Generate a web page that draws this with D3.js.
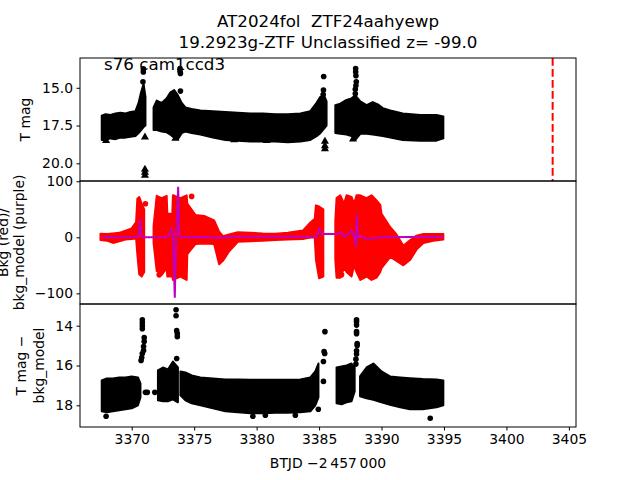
<!DOCTYPE html>
<html>
<head>
<meta charset="utf-8">
<script src="https://cdn.jsdelivr.net/npm/d3@7"></script>
<style>
body { margin: 0; background: #fff; }
text { font-family: "DejaVu Sans", sans-serif; }
</style>
</head>
<body>
<div id="chart"></div>
<script>
// ---- data ----
// bands: [BTJD, upper edge value, lower edge value]
var topBandA = [[3367.6,16.85,18.45],[3367.9,16.75,18.45],[3368.3,16.8,18.35],[3368.7,16.7,18.4],[3369.1,16.65,18.3],[3369.5,16.7,18.3],[3369.9,16.6,18.25],[3370.3,16.55,18.2],[3370.55,16.0,18.0],[3370.75,15.3,17.8],[3370.95,14.75,17.6],[3371.1,15.6,17.5]];
var topBandB = [[3371.75,16.3,17.8],[3372.0,15.85,17.8],[3372.4,16.0,17.9],[3372.8,15.7,17.95],[3373.1,15.3,18.1],[3373.4,15.15,18.3],[3373.7,15.5,18.4],[3374.0,16.0,18.0],[3374.3,16.3,17.9],[3374.8,16.4,18.0],[3375.5,16.5,18.1],[3376.5,16.55,18.3],[3377.5,16.6,18.45],[3378.5,16.65,18.5],[3379.5,16.7,18.55],[3380.5,16.7,18.55],[3381.5,16.75,18.55],[3382.5,16.75,18.6],[3383.5,16.7,18.55],[3384.3,16.55,18.45],[3384.8,16.0,18.2],[3385.1,15.6,18.0],[3385.4,15.5,17.7],[3385.6,15.9,17.5]];
var topBandC = [[3386.3,16.15,18.0],[3386.7,16.05,18.05],[3387.2,15.8,18.1],[3387.6,15.7,18.2],[3387.9,15.5,18.45],[3388.3,15.9,18.05],[3388.8,16.15,18.05],[3389.3,15.95,18.1],[3389.7,16.1,18.15],[3390.1,16.35,18.2],[3390.7,16.5,18.3],[3391.7,16.7,18.45],[3393.1,16.8,18.5],[3394.4,16.8,18.5],[3394.95,16.9,18.35]];
var topDots = [[3370.93,13.75],[3370.93,13.95],[3370.9,14.6],[3373.87,13.72],[3373.87,13.9],[3373.9,14.05],[3373.9,15.22],[3385.37,14.25],[3385.35,15.15],[3385.33,15.45],[3387.93,13.72],[3387.93,13.95],[3387.95,14.2],[3387.98,14.6],[3387.95,14.85],[3387.9,15.1],[3387.9,15.4]];
var topLimits = [[3367.95,18.5],[3371.06,18.27],[3371.06,20.4],[3371.06,20.6],[3371.06,20.8],[3373.5,18.35],[3378.2,18.45],[3380.8,18.5],[3382.57,18.5],[3385.47,18.55],[3385.47,18.85],[3385.47,19.05],[3387.72,18.4]];

var bkgBandA = [[3367.5,6.5,-5],[3368.0,6,-6],[3368.5,7,-10],[3369.0,8,-7],[3369.5,12,-4],[3370.0,16,-3],[3370.35,27,-2],[3370.45,69,-30],[3370.6,72,-66],[3370.8,60,-70],[3371.0,50,-62]];
var bkgBandB = [[3371.75,20,-10],[3372.0,74,-60],[3372.4,70,-67],[3372.8,74,-55],[3372.85,42,-70],[3373.25,42,-70],[3373.3,75,-76],[3373.9,70,-70],[3374.4,75,-76],[3374.45,60,-30],[3375.1,40,-12],[3375.8,38,-11],[3376.6,30,-12],[3377.0,10,-48],[3377.3,2,-42],[3377.8,5,-25],[3378.5,9,-8],[3379.5,8,-7],[3380.5,7,-6],[3381.5,6.5,-5],[3382.5,8,-4],[3383.7,12,-3],[3384.2,24,-1],[3384.65,33,0],[3384.75,57,-40],[3385.0,55,-73],[3385.34,50,-70]];
var bkgBandC = [[3386.3,30,-40],[3386.4,70,-72],[3386.7,75,-72],[3387.0,60,-55],[3387.2,75,-62],[3387.6,72,-70],[3387.8,60,-50],[3388.0,75,-62],[3388.3,75,-76],[3388.8,70,-70],[3389.2,75,-76],[3389.6,66,-72],[3389.9,58,-62],[3390.0,42,-55],[3390.7,18,-35],[3391.2,5,-42],[3391.75,-15,-50],[3392.3,-5,-40],[3392.8,3,-22],[3393.35,6,-10],[3394.15,6,-6],[3394.95,6,-4]];
var bkgDots = [[3371.1,60],[3374.8,73],[3372.2,-67],[3386.8,-67]];
var bkgModel = [[3367.6,0],[3370.4,0.5],[3370.55,3],[3370.66,33],[3370.75,8],[3370.85,0],[3372.9,0],[3373.2,15],[3373.3,2],[3373.45,-108],[3373.55,0],[3373.72,90],[3373.82,4],[3373.95,0],[3376,0.5],[3377,-1],[3378,1],[3384.8,1],[3385.02,15],[3385.2,6],[3386.4,6],[3386.8,9],[3387.0,1],[3387.3,5],[3387.6,12],[3387.85,-2],[3387.95,-17],[3388.02,40],[3388.1,0],[3388.3,2],[3388.8,-2.5],[3389.4,-2],[3389.9,0],[3392.3,0.5],[3394.95,0.5]];

var subBandA = [[3367.6,16.75,18.3],[3368.0,16.65,18.35],[3368.5,16.65,18.3],[3369.0,16.6,18.25],[3369.5,16.6,18.2],[3370.0,16.55,18.15],[3370.5,16.6,18.0],[3370.7,16.9,17.6]];
var subBandB = [[3372.1,16.25,17.75],[3372.5,16.1,17.8],[3372.9,16.2,17.8],[3373.3,15.8,17.7],[3373.7,16.1,17.85]];
var subBandC = [[3373.9,16.3,17.5],[3374.3,16.35,17.75],[3374.8,16.5,17.9],[3375.5,16.6,18.0],[3376.5,16.65,18.15],[3377.5,16.7,18.3],[3378.5,16.7,18.35],[3379.5,16.72,18.4],[3380.5,16.72,18.4],[3381.5,16.72,18.38],[3382.5,16.72,18.38],[3383.5,16.7,18.35],[3384.3,16.6,18.3],[3384.7,16.3,18.0],[3384.95,15.9,17.6]];
var subBandD = [[3386.4,16.1,17.9],[3386.8,16.05,17.95],[3387.2,16.0,17.85],[3387.6,15.9,17.8],[3387.85,16.1,17.3]];
var subBandE = [[3388.28,16.55,17.55],[3388.8,16.1,17.65],[3389.35,15.9,17.72],[3390.0,16.3,17.85],[3390.68,16.55,17.97],[3391.5,16.6,18.1],[3392.28,16.64,18.2],[3393.3,16.68,18.2],[3394.4,16.7,18.1],[3394.95,16.75,18.0]];
var subDots = [[3370.85,13.7],[3370.85,13.85],[3370.85,14.0],[3370.85,14.15],[3371.0,14.6],[3371.0,14.8],[3370.95,15.05],[3370.95,15.25],[3370.85,15.4],[3370.8,15.6],[3370.75,15.75],[3371.1,17.35],[3371.25,17.35],[3371.85,17.35],[3373.55,13.2],[3373.55,13.5],[3373.6,14.25],[3373.65,14.4],[3373.65,14.55],[3373.6,15.65],[3373.45,17.55],[3373.5,17.65],[3367.95,18.55],[3379.7,18.55],[3380.7,18.5],[3383.1,18.5],[3384.94,18.2],[3385.47,14.3],[3385.4,15.3],[3385.45,15.4],[3385.35,15.8],[3385.35,16.8],[3388.0,13.7],[3388.0,13.8],[3388.0,13.97],[3388.0,14.3],[3388.0,14.4],[3388.05,14.9],[3388.05,15.0],[3388.0,15.26],[3388.0,15.42],[3387.95,15.68],[3387.95,15.93],[3393.9,18.65]];

var refTime = 3403.7;
var xTicks = [3370, 3375, 3380, 3385, 3390, 3395, 3400, 3405];
var topTicks = [15.0, 17.5, 20.0];
var bkgTicks = [100, 0, -100];
var subTicks = [14, 16, 18];

// ---- layout ----
var width = 640, height = 480,
    left = 80, right = 576;

var svg = d3.select("#chart").append("svg")
    .attr("width", width).attr("height", height);

var x = d3.scaleLinear().domain([3365.86, 3405.57]).range([left, right]);

function panel(name, top, bottom, domain, ticks, fmt) {
  var y = d3.scaleLinear().domain(domain).range([top, bottom]);
  svg.append("clipPath").attr("id", "clip-" + name)
    .append("rect").attr("x", left).attr("y", top)
    .attr("width", right - left).attr("height", bottom - top);
  var g = svg.append("g").attr("clip-path", "url(#clip-" + name + ")");
  var ax = svg.append("g").attr("transform", "translate(" + left + ",0)")
    .call(d3.axisLeft(y).tickValues(ticks).tickFormat(fmt).tickSize(3.5).tickPadding(3.5));
  ax.select(".domain").remove();
  ax.selectAll("text").attr("font-size", "13.9px").attr("font-family", "DejaVu Sans").attr("fill", "#000");
  ax.selectAll("line").attr("stroke", "#000");
  return {g: g, y: y, top: top, bottom: bottom};
}

var pTop = panel("top", 58, 181, [13.03, 21.17], topTicks, d3.format(".1f"));
var pBkg = panel("bkg", 181, 304, [100.5, -119], bkgTicks, d3.format("d"));
var pSub = panel("sub", 304, 427, [12.91, 19.09], subTicks, d3.format("d"));

function band(p, rows, color) {
  var area = d3.area()
    .x(function (d) { return x(d[0]); })
    .y0(function (d) { return p.y(d[2]); })
    .y1(function (d) { return p.y(d[1]); });
  p.g.append("path").datum(rows).attr("d", area)
    .attr("fill", color).attr("stroke", color)
    .attr("stroke-width", 2).attr("stroke-linejoin", "round");
}

function dots(p, rows, color) {
  p.g.selectAll(null).data(rows).enter().append("circle")
    .attr("cx", function (d) { return x(d[0]); })
    .attr("cy", function (d) { return p.y(d[1]); })
    .attr("r", 2.8).attr("fill", color);
}

// top panel
[topBandA, topBandB, topBandC].forEach(function (b) { band(pTop, b, "#000"); });
dots(pTop, topDots, "#000");
pTop.g.selectAll(null).data(topLimits).enter().append("path")
  .attr("d", d3.symbol(d3.symbolTriangle, 28))
  .attr("transform", function (d) { return "translate(" + x(d[0]) + "," + pTop.y(d[1]) + ")"; })
  .attr("fill", "#000");
pTop.g.append("line")
  .attr("x1", x(refTime)).attr("x2", x(refTime))
  .attr("y1", pTop.top).attr("y2", pTop.bottom)
  .attr("stroke", "#ff0000").attr("stroke-width", 2)
  .attr("stroke-dasharray", "7.7,3.3");

// background panel
[bkgBandA, bkgBandB, bkgBandC].forEach(function (b) { band(pBkg, b, "#ff0000"); });
dots(pBkg, bkgDots, "#ff0000");
pBkg.g.append("path").datum(bkgModel)
  .attr("d", d3.line().x(function (d) { return x(d[0]); }).y(function (d) { return pBkg.y(d[1]); }))
  .attr("fill", "none").attr("stroke", "#bf00bf").attr("stroke-width", 2);

// corrected magnitude panel
[subBandA, subBandB, subBandC, subBandD, subBandE].forEach(function (b) { band(pSub, b, "#000"); });
dots(pSub, subDots, "#000");

// frames
[pTop, pBkg, pSub].forEach(function (p) {
  svg.append("rect").attr("x", left).attr("y", p.top)
    .attr("width", right - left).attr("height", p.bottom - p.top)
    .attr("fill", "none").attr("stroke", "#000").attr("stroke-width", 1);
});

// x axis
var xa = svg.append("g").attr("transform", "translate(0,427)")
  .call(d3.axisBottom(x).tickValues(xTicks).tickFormat(d3.format("d")).tickSize(3.5).tickPadding(3.5));
xa.select(".domain").remove();
xa.selectAll("text").attr("font-size", "13.9px").attr("font-family", "DejaVu Sans").attr("fill", "#000");
xa.selectAll("line").attr("stroke", "#000");

svg.append("text").attr("x", 328).attr("y", 468).attr("text-anchor", "middle")
  .attr("font-size", "13.9px").text("BTJD \u22122\u2009457\u2009000");

// titles and labels
svg.append("text").attr("x", 328).attr("y", 27).attr("text-anchor", "middle")
  .attr("font-size", "16.7px").style("white-space", "pre").text("AT2024fol  ZTF24aahyewp");
svg.append("text").attr("x", 328).attr("y", 48).attr("text-anchor", "middle")
  .attr("font-size", "16.7px").text("19.2923g-ZTF Unclassified z= -99.0");
svg.append("text").attr("x", 104).attr("y", 70)
  .attr("font-size", "16.7px").text("s76 cam1ccd3");

function ylabel(text, bx, cy) {
  svg.append("text").attr("transform", "translate(" + bx + "," + cy + ") rotate(-90)")
    .attr("text-anchor", "middle").attr("font-size", "13.9px").text(text);
}
ylabel("T mag", 29.5, 119.5);
ylabel("Bkg (red)/", 8, 242.5);
ylabel("bkg_model (purple)", 23.5, 242.5);
ylabel("T mag \u2212", 25.5, 365.5);
ylabel("bkg_model", 43.5, 365.5);
</script>
</body>
</html>
